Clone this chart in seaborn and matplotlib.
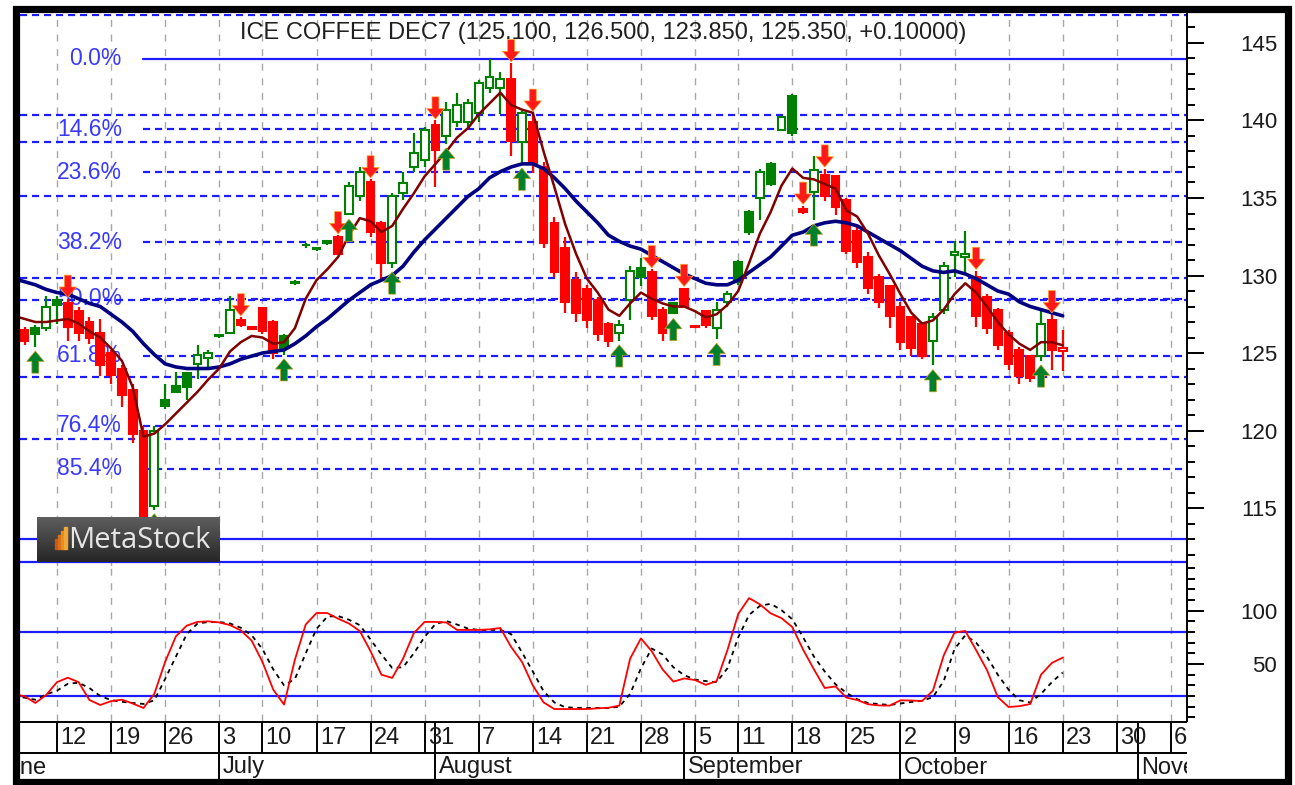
import numpy as np
import pandas as pd
import seaborn as sns
import matplotlib.pyplot as plt
from matplotlib.patches import Rectangle
from matplotlib.transforms import blended_transform_factory

# bar 0 = Mon 12 Jun 2017, trading days only (4 Jul and 4 Sep skipped)
bar = list(range(-4, 94))

opens = [127.2, 126.5, 126.6, 126.6, 128.4, 128.2, 127.7, 127.0, 126.3, 125.0,
         124.0, 122.6, 120.0, 115.1, 122.0, 122.9, 123.7, 124.3, 124.7, 126.1,
         126.3, 127.1, 126.65, 127.9, 127.0, 126.1, 129.6, 132.0, 131.7, 132.2,
         132.5, 134.0, 135.1, 136.0, 133.4, 130.8, 135.3, 137.0, 137.45, 139.7,
         139.0, 139.9, 139.9, 140.5, 142.1, 142.1, 142.7, 138.6, 139.9, 137.0,
         133.4, 131.8, 129.7, 129.1, 128.4, 126.9, 126.3, 128.4, 130.5, 130.2,
         127.8, 128.2, 129.1, 126.75, 127.7, 126.6, 128.3, 130.9, 134.1, 135.0,
         137.2, 139.4, 141.6, 134.3, 135.4, 136.5, 136.4, 134.9, 132.9, 131.2,
         129.9, 129.3, 128.0, 127.3, 126.9, 125.8, 127.8, 131.3, 131.2, 129.9,
         128.6, 127.8, 126.3, 125.2, 124.8, 124.8, 127.1, 125.1]
highs = [127.6, 126.7, 126.8, 128.7, 128.7, 128.5, 128.0, 127.3, 127.2, 125.2,
         124.2, 123.0, 120.3, 120.3, 123.0, 123.8, 123.8, 125.5, 125.2, 126.2,
         128.7, 127.3, 126.7, 128.0, 127.1, 126.2, 129.7, 132.1, 131.8, 132.3,
         132.6, 136.0, 137.0, 136.2, 133.5, 135.3, 136.7, 139.2, 139.6, 140.0,
         141.2, 141.8, 141.4, 142.6, 143.97, 143.1, 143.7, 140.6, 140.5, 137.3,
         133.8, 132.5, 130.2, 129.4, 128.6, 127.0, 127.1, 130.6, 131.1, 130.4,
         128.0, 128.3, 129.2, 126.8, 127.8, 128.3, 129.0, 131.0, 134.2, 136.9,
         137.3, 140.3, 141.7, 134.5, 137.7, 136.9, 136.5, 135.0, 133.1, 131.5,
         130.1, 129.4, 128.3, 127.4, 127.0, 127.6, 130.9, 132.2, 132.9, 130.3,
         128.8, 127.9, 126.5, 125.4, 124.9, 127.9, 127.5, 126.5]
lows = [126.5, 125.5, 125.4, 126.4, 126.9, 125.8, 125.8, 125.6, 123.5, 123.0,
        121.5, 119.2, 113.0, 114.9, 121.4, 122.4, 122.0, 123.3, 124.1, 126.0,
        126.2, 126.7, 126.5, 126.2, 124.6, 124.9, 129.4, 131.8, 131.6, 132.0,
        131.3, 133.9, 134.8, 132.5, 129.7, 130.5, 134.9, 136.7, 137.0, 135.7,
        138.5, 139.6, 139.5, 139.9, 141.8, 140.4, 137.7, 137.2, 136.6, 131.8,
        129.9, 127.6, 127.0, 126.6, 125.8, 125.4, 125.8, 127.1, 129.3, 127.1,
        125.8, 127.5, 127.9, 126.6, 126.6, 125.9, 128.0, 129.4, 132.6, 133.6,
        135.8, 139.3, 139.0, 134.0, 133.6, 134.8, 133.9, 131.4, 130.5, 128.8,
        127.9, 126.6, 125.2, 124.8, 124.6, 124.2, 127.5, 129.9, 130.1, 126.7,
        126.2, 125.2, 123.9, 123.0, 123.1, 124.5, 123.9, 123.85]
closes = [126.9, 125.8, 126.2, 128.0, 128.1, 126.7, 126.3, 126.0, 124.2, 123.6,
          122.3, 119.8, 114.4, 120.0, 121.6, 122.5, 122.8, 124.9, 125.0, 126.15,
          127.8, 126.8, 126.55, 126.4, 125.0, 125.3, 129.5, 131.95, 131.75, 132.1,
          131.4, 135.8, 136.7, 132.8, 130.8, 135.1, 135.95, 137.9, 139.4, 138.1,
          140.7, 141.0, 141.1, 142.4, 142.8, 142.7, 138.7, 140.5, 137.2, 132.1,
          130.2, 128.3, 127.6, 127.1, 126.2, 125.8, 126.8, 130.3, 129.9, 127.4,
          126.3, 127.6, 128.0, 126.65, 126.8, 127.8, 128.8, 129.6, 132.8, 136.7,
          135.9, 140.2, 139.2, 134.1, 136.8, 135.1, 134.4, 131.6, 130.9, 129.2,
          128.3, 127.4, 125.7, 125.3, 124.8, 127.3, 130.6, 131.5, 131.4, 127.4,
          126.6, 125.5, 124.3, 123.5, 123.4, 126.9, 125.2, 125.35]
colours = list("rrgggrrrrr" "rrrggggggg" "grrrrggggg" "rggrrggggr" "ggggggrgrr"
               "rrrrrrgggr" "rgrrrggggg" "gggrgrrrrr" "rrrrrggggr" "rrrrrgrr")

ma_fast = [127.4, 127.2, 127.0, 127.0, 127.1, 127.2, 126.9, 126.4, 126.0, 125.3,
           124.5, 122.8, 119.6, 119.8, 120.4, 121.1, 121.8, 122.5, 123.3, 124.0,
           125.1, 125.7, 126.1, 126.0, 125.6, 125.7, 126.6, 128.5, 129.7, 130.4,
           131.2, 132.6, 133.7, 133.5, 132.8, 133.2, 134.3, 135.3, 136.4, 137.2,
           138.0, 138.9, 139.5, 140.4, 141.1, 141.8, 141.0, 140.7, 140.5, 138.0,
           135.7, 133.3, 131.4, 129.8, 128.9, 127.8, 127.4, 128.2, 128.9, 128.5,
           128.2, 128.0, 128.0, 127.7, 127.3, 127.5, 128.1, 129.0, 130.8, 132.7,
           134.1, 135.8, 136.9, 136.3, 136.2, 135.9, 135.6, 134.2, 133.8, 132.7,
           131.3, 130.1, 128.8, 127.6, 126.9, 127.1, 127.8, 128.8, 129.5, 128.9,
           128.0, 127.0, 126.2, 125.6, 125.2, 125.7, 125.7, 125.5]
ma_slow = [129.8, 129.6, 129.4, 129.1, 128.9, 128.8, 128.5, 128.2, 128.0, 127.5,
           127.0, 126.4, 125.6, 124.9, 124.3, 124.1, 124.0, 124.0, 124.0, 124.1,
           124.3, 124.6, 124.8, 125.0, 125.1, 125.2, 125.6, 126.1, 126.7, 127.2,
           127.8, 128.4, 128.9, 129.4, 129.7, 130.0, 130.6, 131.5, 132.3, 133.0,
           133.7, 134.4, 135.1, 135.6, 136.3, 136.7, 137.0, 137.2, 137.2, 136.9,
           136.3, 135.6, 134.8, 134.1, 133.4, 132.6, 132.2, 131.9, 131.7, 131.3,
           130.9, 130.5, 130.1, 129.8, 129.5, 129.4, 129.4, 129.7, 130.2, 130.7,
           131.2, 131.9, 132.6, 132.8, 133.2, 133.4, 133.5, 133.4, 133.2, 132.8,
           132.4, 132.0, 131.6, 131.1, 130.6, 130.3, 130.2, 130.3, 130.1, 129.8,
           129.4, 129.0, 128.8, 128.3, 128.0, 127.8, 127.6, 127.4]

stoch_k = [22, 19.8, 13.5, 21, 33, 37.2, 33, 16.3, 11.6, 15.2,
           16.6, 13, 8.8, 22, 52, 76, 86, 89.5, 90, 89,
           86.5, 81.5, 72, 52, 26, 12, 54, 87, 97.8, 97.8,
           92.5, 88, 81, 62, 40, 37, 55, 79, 89.5, 89.5,
           89, 82, 82, 82, 82.5, 83.8, 66, 52, 30, 14,
           7.8, 7.8, 7.8, 7.8, 8.5, 9, 11, 55, 74, 62,
           45, 33.5, 36.5, 35, 30.5, 34, 63, 97, 111.8, 106,
           97.5, 93, 84.7, 63.5, 45, 27.5, 29, 18.5, 16.3, 12.3,
           11.2, 11, 16, 15.8, 15.3, 25, 58, 79.5, 81, 63,
           44.4, 19, 9.7, 10.5, 12.5, 40, 51, 56]
stoch_d = [20, 18.5, 16.5, 21.5, 25, 31.5, 32.5, 27.5, 20, 16.2,
           14.6, 13.5, 12.6, 16, 36, 57, 78, 88, 89.4, 89.4,
           88, 84, 77, 64, 45, 30, 36, 60, 83, 94.5,
           95, 91.5, 86.5, 73, 59, 46.3, 47, 60, 75.5, 87.5,
           90.3, 87, 83.3, 82, 82, 82, 78, 61, 43, 24.5,
           14, 9.5, 9, 8.8, 8.8, 8.8, 10, 22, 46, 64.5,
           59, 47, 39.5, 35.5, 34, 33, 46, 75, 96, 104.5,
           106.5, 100.5, 92, 75, 57, 43, 31, 23, 17, 13.5,
           12.5, 11.6, 13, 14.4, 15.5, 19, 34, 64, 77, 70,
           57, 40, 26, 16, 14, 22, 33, 42]

buy_bars = [-2, 9, 21, 27, 31, 36, 43, 52, 57, 61, 70, 81, 91]
sell_bars = [1, 17, 26, 29, 35, 42, 44, 55, 58, 69, 71, 85, 92]

fib_pcts = [0.0, 14.6, 23.6, 38.2, 50.0, 61.8, 76.4, 85.4]
dashed_levels = [146.8, 140.35, 138.6, 135.13, 129.84, 128.42, 123.45, 119.45]
solid_levels = [111.5]
stoch_levels = [80, 20]

week_bars = [-5, 0, 5, 10, 15, 19, 24, 29, 34, 39, 44, 49, 54, 59, 63, 68,
             73, 78, 83, 88, 93, 98, 103]
week_labels = ['5', '12', '19', '26', '3', '10', '17', '24', '31', '7', '14',
               '21', '28', '5', '11', '18', '25', '2', '9', '16', '23', '30', '6']
month_bars = [-6, 15, 35, 58, 78, 100]
month_labels = ['June', 'July', 'August', 'September', 'October', 'November']

title = "ICE COFFEE DEC7 (125.100, 126.500, 123.850, 125.350, +0.10000)"

df = pd.DataFrame(dict(bar=bar, open=opens, high=highs, low=lows,
                       close=closes, colour=colours))

sns.set_theme(style="white")
plt.rcParams['font.family'] = ['Liberation Sans', 'DejaVu Sans']

W, H = 1295, 785


def box(x0, y0, x1, y1):
    # pixel box measured from the top left of the picture
    return [x0 / W, 1 - y1 / H, (x1 - x0) / W, (y1 - y0) / H]


fig = plt.figure(figsize=(W / 100, H / 100), dpi=100)
ax = fig.add_axes(box(20, 14, 1187, 566))
axs = fig.add_axes(box(20, 566, 1187, 721))
axd = fig.add_axes(box(20, 721, 1187, 780))

XL = (-3.42, 104.5)
BLUE = '#1c1cff'
DASH = (0, (3.2, 2.2))

for a in (ax, axs):
    a.set_xlim(*XL)
    a.set_facecolor('white')
    for w in week_bars:
        a.axvline(w, color='#a8a8a8', lw=1.0, ls=(0, (5, 5.5)), zorder=0)

ax.set_ylim(111.26, 146.87)
axs.set_ylim(-3.4, 141.9)

# fibonacci retracement between the low and the high of the data
hi, lo = df.high.max(), df.low.min()
fib_start = (143 - 20) / 1167
lab_tr = blended_transform_factory(ax.transAxes, ax.transData)
for p in fib_pcts:
    lvl = hi - p / 100 * (hi - lo)
    ax.axhline(lvl, xmin=fib_start, color=BLUE, lw=1.6,
               ls='-' if p == 0 else DASH, zorder=1)
    ax.text(0.0874, lvl, f'{p:.1f}%', transform=lab_tr, ha='right',
            va='center', color='#3a3aff', fontsize=16.5, zorder=1)
ax.axhline(lo, color=BLUE, lw=1.6, zorder=1)
for lvl in dashed_levels:
    ax.axhline(lvl, color=BLUE, lw=1.6, ls=DASH, zorder=1)
for lvl in solid_levels:
    ax.axhline(lvl, color=BLUE, lw=1.6, zorder=1)

# candles
cmap = {'g': '#008000', 'r': '#ff0000'}
col = df.colour.map(cmap).tolist()
up = (df.close > df.open).values
ax.vlines(df.bar, df.low, df.high, colors=col, lw=1.6, zorder=3)
ax.bar(df.bar, df.close - df.open, bottom=df.open, width=0.72,
       color=np.where(up, 'white', col), edgecolor=col, linewidth=1.5, zorder=4)

sns.lineplot(x=bar, y=ma_slow, ax=ax, color='#000080', lw=2.6, errorbar=None, zorder=5)
sns.lineplot(x=bar, y=ma_fast, ax=ax, color='#800000', lw=1.8, errorbar=None, zorder=6)

astyle = 'simple,head_length=0.75,head_width=1.25,tail_width=0.5'
for b in sell_bars:
    ax.annotate('', xy=(b, df.high[df.bar == b].iloc[0]), xytext=(0, 17),
                textcoords='offset points', zorder=7,
                arrowprops=dict(arrowstyle=astyle, fc='#ff1a1a', ec='#ffa020',
                                lw=0.5, shrinkA=0, shrinkB=1.0, mutation_scale=10))
for b in buy_bars:
    ax.annotate('', xy=(b, df.low[df.bar == b].iloc[0]), xytext=(0, -19),
                textcoords='offset points', zorder=7,
                arrowprops=dict(arrowstyle=astyle, fc='#00802a', ec='#c0a020',
                                lw=0.5, shrinkA=0, shrinkB=3.0, mutation_scale=10))

ax.text(0.5, 0.9656, title, transform=ax.transAxes, ha='center', va='center',
        fontsize=17, color='#202020', zorder=2)

# stochastic panel
for lvl in stoch_levels:
    axs.axhline(lvl, color=BLUE, lw=1.6, zorder=1)
sns.lineplot(x=bar, y=stoch_k, ax=axs, color='#ff0000', lw=1.3, errorbar=None, zorder=3)
sns.lineplot(x=bar, y=stoch_d, ax=axs, color='black', lw=1.3, errorbar=None, zorder=2)
axs.lines[-1].set_linestyle((0, (2.5, 2.5)))

# right hand value axes
ax.set_yticks(range(115, 146, 5))
ax.set_yticks(range(112, 147), minor=True)
axs.set_yticks([50, 100])
axs.set_yticks(range(0, 141, 10), minor=True)
for a in (ax, axs):
    a.set_xlabel('')
    a.set_ylabel('')
    a.set_xticks([])
    a.yaxis.tick_right()
    for s in ('left', 'top', 'bottom'):
        a.spines[s].set_visible(False)
    a.spines['right'].set_color('black')
    a.spines['right'].set_linewidth(1.4)
    a.tick_params(axis='y', which='major', length=12, width=1.4, direction='out',
                  labelsize=16, pad=53, color='black', labelcolor='#1a1a1a')
    a.tick_params(axis='y', which='minor', length=5.8, width=1.4,
                  direction='out', color='black')
    for lab in a.get_yticklabels():
        lab.set_horizontalalignment('right')

# date axis
axd.set_xlim(*XL)
axd.set_ylim(59, 0)
axd.axis('off')
axd.hlines([1, 32], *XL, color='black', lw=1.4)
axd.vlines(week_bars, 1, 32, color='black', lw=1.4)
axd.vlines(month_bars[1:], 1, 59, color='black', lw=1.4)
for b, t in zip(week_bars, week_labels):
    axd.text(b + 0.3, 17.5, t, ha='left', va='center', fontsize=17,
             color='#1a1a1a', clip_on=True)
for b, t in zip(month_bars, month_labels):
    axd.text(b + 0.3, 46.5, t, ha='left', va='center', fontsize=17,
             color='#1a1a1a', clip_on=True)

# MetaStock badge
lax = fig.add_axes(box(37, 517, 219, 562))
lax.imshow(np.linspace(0.37, 0.15, 40)[:, None], cmap='gray', vmin=0, vmax=1,
           aspect='auto', extent=(0, 1, 0, 1))
lax.axis('off')
for k, (hgt, c) in enumerate(zip([0.22, 0.3, 0.38, 0.48],
                                  ['#c85a10', '#d87018', '#e88a20', '#f0a838'])):
    lax.add_patch(Rectangle((0.10 + k * 0.017, 0.3), 0.012, hgt, color=c))
lax.text(0.17, 0.47, 'MetaStock', color='#e6e6e6', fontsize=21,
         family=['Open Sans', 'DejaVu Sans'], ha='left', va='center',
         transform=lax.transAxes)

fig.add_artist(Rectangle((15.5 / W, 1 - 781.5 / H), 1272.5 / W, 773 / H,
                         transform=fig.transFigure, fill=False, ec='black', lw=5.2))

fig.savefig('out.png', dpi=100)
